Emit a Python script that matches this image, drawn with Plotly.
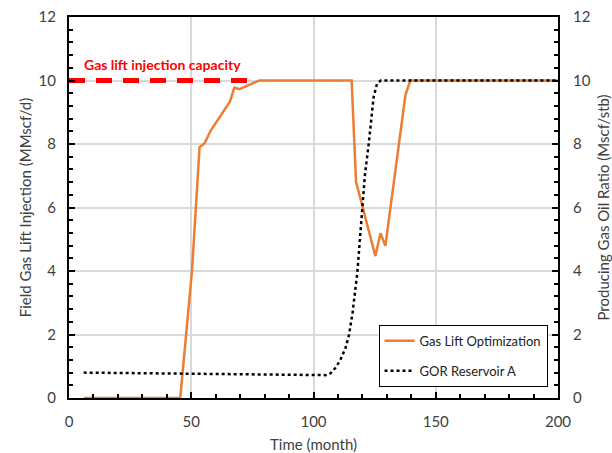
import plotly.graph_objects as go

# Gas lift optimisation: field gas lift injection rate (MMscf/d)
glo_month = [6, 45.5, 50.3, 53.4, 55.4, 58.1, 65.8, 67.6, 69.7, 77.8, 115.6, 117.4,
             125.3, 127.4, 129.4, 137.6, 139.6, 200]
glo_rate = [0, 0, 4.0, 7.9, 8.02, 8.44, 9.33, 9.77, 9.73, 10.0, 10.0, 6.81,
            4.47, 5.19, 4.79, 9.54, 10.0, 10.0]

# Producing gas oil ratio of reservoir A (Mscf/stb)
gor_month = [6, 20, 40, 60, 80, 100, 105, 107, 109, 111, 113, 114.5, 116, 117.9,
             119.9, 121, 122.6, 124.6, 126, 127.5, 130, 200]
gor_value = [0.80, 0.79, 0.78, 0.76, 0.74, 0.72, 0.72, 0.78, 0.95, 1.2, 1.55, 1.98,
             2.7, 3.93, 6.03, 7.0, 8.02, 9.49, 9.9, 10.0, 10.0, 10.0]

# Injection capacity limit
cap_month = [0, 74.5]
cap_rate = [10, 10]

FONT = "Lato, 'Open Sans', sans-serif"
GRID = "#d9d9d9"

fig = go.Figure()
fig.add_trace(go.Scatter(x=cap_month, y=cap_rate, mode="lines", showlegend=False,
                         line=dict(color="#ff0000", width=5, dash="16px,11px"),
                         hoverinfo="skip"))
fig.add_trace(go.Scatter(x=glo_month, y=glo_rate, mode="lines",
                         name="Gas Lift Optimization", legendgroup="a",
                         line=dict(color="#ED7D31", width=2.5)))
fig.add_trace(go.Scatter(x=gor_month, y=gor_value, mode="lines", yaxis="y2",
                         name="GOR Reservoir A", legendgroup="b",
                         line=dict(color="black", width=2.5, dash="dot")))

fig.add_annotation(x=5.5, y=10.5, xref="x", yref="y", text="<b>Gas lift injection capacity</b>",
                   showarrow=False, xanchor="left", yanchor="middle",
                   font=dict(color="#ff0000", size=14, family=FONT))

tickfont = dict(size=15, color="#404040", family=FONT)
titlefont = dict(size=15, color="#404040", family=FONT)

fig.update_layout(
    width=612, height=453,
    margin=dict(l=69, r=54, t=17, b=55),
    plot_bgcolor="white", paper_bgcolor="white",
    font=dict(family=FONT),
    xaxis=dict(range=[0, 200], dtick=50, showgrid=True, gridcolor=GRID, gridwidth=2,
               showline=True, linecolor="black", linewidth=2, mirror=True,
               ticks="inside", ticklen=6, tickwidth=2, tickcolor="black",
               minor=dict(dtick=10, ticks="inside", ticklen=4, tickwidth=2,
                          tickcolor="black", showgrid=False),
               tickfont=tickfont, zeroline=False, ticklabelstandoff=9,
               automargin=False,
               title=dict(text="Time (month)", font=titlefont, standoff=14)),
    yaxis=dict(range=[0, 12], dtick=2, showgrid=True, gridcolor=GRID, gridwidth=2,
               showline=True, linecolor="black", linewidth=2,
               ticks="inside", ticklen=6, tickwidth=2, tickcolor="black",
               minor=dict(dtick=0.4, ticks="inside", ticklen=4, tickwidth=2,
                          tickcolor="black", showgrid=False),
               tickfont=tickfont, zeroline=False, ticklabelstandoff=8,
               automargin=False,
               title=dict(text="Field Gas Lift Injection (MMscf/d)", font=titlefont,
                          standoff=3)),
    yaxis2=dict(range=[0, 12], dtick=2, overlaying="y", side="right", showgrid=False,
                showline=True, linecolor="black", linewidth=2,
                ticks="inside", ticklen=6, tickwidth=2, tickcolor="black",
                minor=dict(dtick=0.4, ticks="inside", ticklen=4, tickwidth=2,
                           tickcolor="black"),
                tickfont=tickfont, zeroline=False, ticklabelstandoff=10,
                automargin=False,
                title=dict(text="Producing Gas Oil Ratio (Mscf/stb)", font=titlefont,
                           standoff=14)),
    legend=dict(x=0.633, y=0.192, xanchor="left", yanchor="top",
                bgcolor="white", bordercolor="black", borderwidth=1,
                font=dict(size=13, color="#222222", family=FONT),
                itemwidth=30, tracegroupgap=10),
)

fig.write_html("out.html")
